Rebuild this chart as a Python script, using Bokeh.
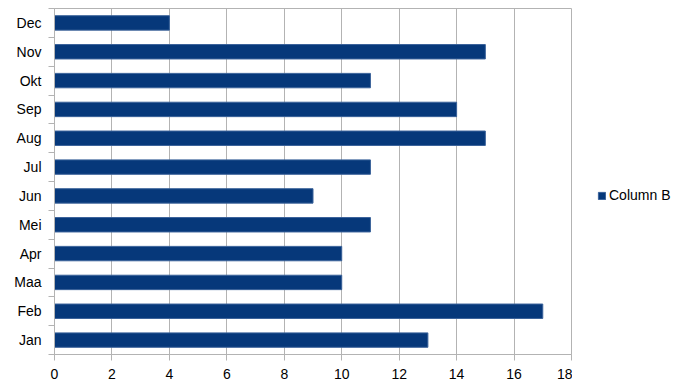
from bokeh.plotting import figure
from bokeh.models import FixedTicker, Range1d, Legend, LegendItem
from bokeh.layouts import row
from bokeh.embed import file_html
from bokeh.resources import INLINE

months = ["Jan", "Feb", "Maa", "Apr", "Mei", "Jun", "Jul", "Aug", "Sep", "Okt", "Nov", "Dec"]
values = [13, 17, 10, 10, 11, 9, 11, 15, 14, 11, 15, 4]
x_ticks = [0, 2, 4, 6, 8, 10, 12, 14, 16, 18]
series_name = "Column B"

bar_color = "#06387a"
bar_edge = "#3a629a"
grey = "#b3b3b3"
font = "Liberation Sans"

centers = [i + 0.5 for i in range(len(months))]
bounds = list(range(len(months) + 1))

p = figure(width=572, height=390, output_backend="svg", toolbar_location=None,
           x_range=Range1d(0, 18), y_range=Range1d(0, len(months)),
           min_border_left=54, min_border_right=1, min_border_top=8, min_border_bottom=36)

r = p.hbar(y=centers, left=0, right=values, height=0.5,
           fill_color=bar_color, line_color=bar_edge, line_width=1)

p.xaxis.ticker = FixedTicker(ticks=x_ticks)
p.xaxis.axis_line_color = grey
p.xaxis.major_tick_line_color = grey
p.xaxis.major_tick_out = 6
p.xaxis.major_tick_in = 0
p.xaxis.minor_tick_line_color = None
p.xaxis.major_label_text_font = font
p.xaxis.major_label_text_font_size = "14px"
p.xaxis.major_label_text_color = "black"
p.xaxis.major_label_standoff = 8

p.yaxis.ticker = FixedTicker(ticks=centers, minor_ticks=bounds)
p.yaxis.major_label_overrides = {c: m for c, m in zip(centers, months)}
p.yaxis.axis_line_color = grey
p.yaxis.major_tick_line_color = None
p.yaxis.major_tick_out = 0
p.yaxis.major_tick_in = 0
p.yaxis.minor_tick_line_color = grey
p.yaxis.minor_tick_out = 6
p.yaxis.minor_tick_in = 0
p.yaxis.major_label_text_font = font
p.yaxis.major_label_text_font_size = "14px"
p.yaxis.major_label_text_color = "black"
p.yaxis.major_label_standoff = 7

p.xgrid.grid_line_color = grey
p.ygrid.grid_line_color = None
p.outline_line_color = grey
p.background_fill_color = "white"
p.border_fill_color = "white"

# legend lives in a small side figure; its series copy is kept out of view
q = figure(width=121, height=390, output_backend="svg", toolbar_location=None,
           x_range=Range1d(-2, -1), y_range=Range1d(0, 1),
           min_border=0, outline_line_color=None)
q.axis.visible = False
q.grid.visible = False
q.border_fill_color = "white"
q.background_fill_color = "white"
twin = q.hbar(y=centers, left=0, right=values, height=0.5,
              fill_color=bar_color, line_color=bar_edge, line_width=1)

legend = Legend(items=[LegendItem(label=series_name, renderers=[twin])],
                location=(25, 151), orientation="vertical",
                border_line_color=None, background_fill_alpha=0,
                label_text_font=font, label_text_font_size="14px",
                label_text_color="black",
                glyph_width=9, glyph_height=9, padding=0, margin=0,
                label_standoff=3)
q.add_layout(legend, "center")

layout = row(p, q, spacing=0)
open("out.html", "w").write(file_html(layout, INLINE))
